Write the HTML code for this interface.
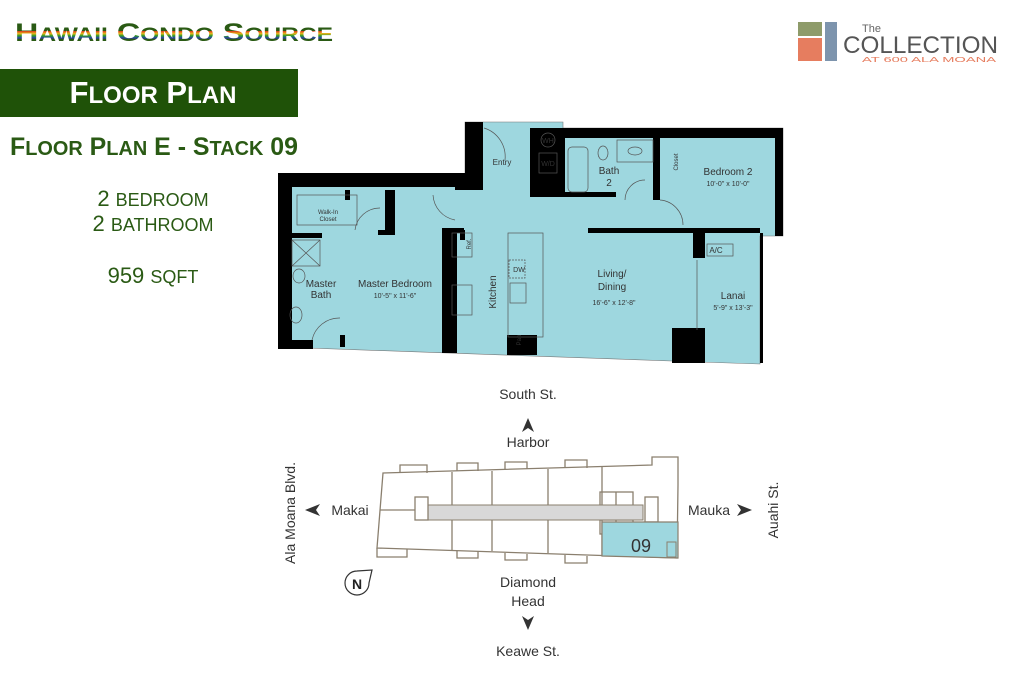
<!DOCTYPE html>
<html><head><meta charset="utf-8"><style>
body{margin:0;width:1024px;height:683px;background:#fff;overflow:hidden;font-family:"Liberation Sans",sans-serif}
svg{position:absolute;left:0;top:0}
</style></head><body>
<svg width="1024" height="683" viewBox="0 0 1024 683" font-family="Liberation Sans, sans-serif">
<defs>
<linearGradient id="rb" x1="0" y1="0" x2="0" y2="1">
<stop offset="0" stop-color="#2a5a14"/><stop offset="0.42" stop-color="#2a5a14"/>
<stop offset="0.42" stop-color="#d62a1a"/><stop offset="0.52" stop-color="#e8b81a"/>
<stop offset="0.6" stop-color="#2a9a2a"/><stop offset="0.68" stop-color="#2a3ab0"/>
<stop offset="0.72" stop-color="#2a5a14"/><stop offset="1" stop-color="#2a5a14"/>
</linearGradient>
</defs>
<text x="15" y="41" font-size="25" font-weight="bold" fill="url(#rb)" textLength="318" lengthAdjust="spacingAndGlyphs">H<tspan font-size="19">AWAII</tspan> C<tspan font-size="19">ONDO</tspan> S<tspan font-size="19">OURCE</tspan></text>
<rect x="0" y="69" width="298" height="48" fill="#1f5208"/>
<text x="153" y="103" font-size="31" font-weight="bold" fill="#fff" text-anchor="middle">F<tspan font-size="24">LOOR</tspan> P<tspan font-size="24">LAN</tspan></text>
<text x="10" y="155" font-size="25" font-weight="bold" fill="#2a5a14" textLength="288" lengthAdjust="spacingAndGlyphs">F<tspan font-size="20">LOOR</tspan> P<tspan font-size="20">LAN</tspan> E - S<tspan font-size="20">TACK</tspan> 09</text>
<g fill="#2a5a14" text-anchor="middle" font-size="22">
<text x="153" y="206">2 <tspan font-size="18">BEDROOM</tspan></text>
<text x="153" y="231">2 <tspan font-size="18">BATHROOM</tspan></text>
<text x="153" y="283">959 <tspan font-size="18">SQFT</tspan></text>
</g>
<rect x="798" y="22" width="24" height="14" fill="#8e9b6a"/>
<rect x="798" y="38" width="24" height="23" fill="#e67d5f"/>
<rect x="825" y="22" width="12" height="39" fill="#7d94ad"/>
<text x="862" y="32" font-size="11" fill="#666">The</text>
<text x="843" y="53" font-size="24" fill="#555" textLength="155" lengthAdjust="spacingAndGlyphs">COLLECTION</text>
<text x="862" y="62" font-size="7" fill="#e67d5f" textLength="134" lengthAdjust="spacingAndGlyphs">AT 600 ALA MOANA</text>

<polygon points="280,175 465,175 465,122 563,122 563,128 783,128 783,236 760,236 760,364 700,362 280,347" fill="#9ed7df" stroke="#777" stroke-width="0.6"/>
<g fill="#000">
<rect x="278" y="173" width="192" height="14"/>
<rect x="278" y="173" width="14" height="176"/>
<rect x="465" y="122" width="18" height="68"/>
<rect x="455" y="173" width="28" height="17"/>
<rect x="530" y="128" width="35" height="69"/>
<rect x="563" y="128" width="220" height="10"/>
<rect x="653" y="128" width="7" height="72"/>
<rect x="530" y="192" width="86" height="5"/>
<rect x="588" y="228" width="172" height="5"/>
<rect x="693" y="228" width="12" height="30"/>
<rect x="672" y="328" width="33" height="35"/>
<rect x="442" y="228" width="15" height="125"/>
<rect x="442" y="228" width="22" height="5"/>
<rect x="507" y="335" width="30" height="20"/>
<rect x="385" y="190" width="10" height="45"/>
<rect x="345" y="190" width="5" height="10"/>
<rect x="292" y="233" width="30" height="5"/>
<rect x="378" y="230" width="17" height="5"/>
<rect x="278" y="340" width="35" height="9"/>
<rect x="340" y="335" width="5" height="12"/>
<rect x="460" y="230" width="5" height="10"/>
<rect x="775" y="128" width="8" height="108"/>
<rect x="760" y="233" width="3" height="130"/>
</g>
<g fill="none" stroke="#555" stroke-width="0.7">
<rect x="292" y="240" width="28" height="26"/>
<path d="M292,240 L320,266 M320,240 L292,266"/>
<rect x="297" y="195" width="60" height="30"/>
<rect x="508" y="233" width="35" height="104"/>
<rect x="509" y="260" width="16" height="18" stroke-dasharray="2,1"/>
<rect x="510" y="283" width="16" height="20"/>
<rect x="452" y="233" width="20" height="24"/>
<rect x="452" y="285" width="20" height="30"/>
<circle cx="548" cy="140" r="7"/>
<rect x="539" y="153" width="18" height="20"/>
<rect x="568" y="147" width="20" height="45" rx="4"/>
<rect x="617" y="140" width="36" height="22"/>
<ellipse cx="635" cy="151" rx="7" ry="4"/>
<ellipse cx="603" cy="153" rx="5" ry="7"/>
<ellipse cx="299" cy="276" rx="6" ry="7"/>
<ellipse cx="296" cy="315" rx="6" ry="8"/>
<rect x="707" y="244" width="26" height="12"/>
<path d="M433,195 A27,27 0 0 0 455,220"/>
<path d="M484,128 A30,30 0 0 1 505,160"/>
<path d="M625,200 A20,20 0 0 1 645,180"/>
<path d="M660,200 A25,25 0 0 1 683,225"/>
<path d="M355,230 A25,25 0 0 1 380,208"/>
<path d="M312,340 A28,28 0 0 1 340,318"/>
<path d="M697,260 L697,330"/>
</g>
<g fill="#333" text-anchor="middle" font-size="10">
<text x="395" y="287">Master Bedroom</text>
<text x="395" y="298" font-size="7">10'-5" x 11'-6"</text>
<text x="321" y="287">Master</text><text x="321" y="298">Bath</text>
<text x="328" y="214" font-size="6">Walk-In</text><text x="328" y="221" font-size="6">Closet</text>
<text transform="translate(496,292) rotate(-90)">Kitchen</text>
<text x="612" y="277">Living/</text><text x="612" y="290">Dining</text>
<text x="614" y="305" font-size="7">16'-6" x 12'-8"</text>
<text x="733" y="299">Lanai</text>
<text x="733" y="310" font-size="7">5'-9" x 13'-3"</text>
<text x="728" y="175">Bedroom 2</text>
<text x="728" y="186" font-size="7">10'-0" x 10'-0"</text>
<text x="609" y="174">Bath</text><text x="609" y="186">2</text>
<text x="502" y="165" font-size="8">Entry</text>
<text x="548" y="143" font-size="7">WH</text>
<text x="548" y="166" font-size="7">W/D</text>
<text x="716" y="253" font-size="8">A/C</text>
<text x="519" y="272" font-size="7">DW</text>
<text transform="translate(471,244) rotate(-90)" font-size="6">Ref.</text>
<text transform="translate(521,340) rotate(-90)" font-size="6">Pan</text>
<text transform="translate(678,162) rotate(-90)" font-size="6">Closet</text>
</g>

<g fill="none" stroke="#8a7f6e" stroke-width="1.3">
<polygon points="383,473 652,465 652,457 678,457 678,485 677,558 377,548"/>
<path d="M400,473 v-8 h27 v8 M457,471 v-8 h21 v8 M505,469 v-7 h22 v7 M565,468 v-8 h22 v8"/>
<path d="M377,548 v9 h30 v-8 M457,551 v7 h21 v-7 M505,553 v7 h22 v-6 M565,555 v8 h22 v-7"/>
<path d="M452,472 V550 M492,471 V551 M548,469 V553 M602,467 V555 M380,510 H415"/>
<rect x="600" y="492" width="33" height="20"/>
<rect x="600" y="520" width="33" height="14"/>
<rect x="645" y="497" width="13" height="25"/>
<path d="M616,492 V512 M616,520 V534"/>
</g>
<polygon points="427,505 643,505 643,520 427,520" fill="#d8d8d8" stroke="#8a7f6e" stroke-width="1"/>
<rect x="415" y="497" width="13" height="23" fill="#fff" stroke="#8a7f6e" stroke-width="1.3"/>
<polygon points="602,522 670,522 678,522 678,558 602,556" fill="#9ed7df" stroke="#8a7f6e" stroke-width="1.2"/>
<rect x="667" y="542" width="9" height="15" fill="none" stroke="#8a7f6e"/>
<text x="641" y="552" font-size="18" fill="#333" text-anchor="middle">09</text>
<g fill="#333" font-size="14" text-anchor="middle">
<text x="528" y="399">South St.</text>
<path d="M522,432 L528,418 L534,432 L528,428Z"/>
<text x="528" y="447">Harbor</text>
<text x="350" y="515">Makai</text>
<path d="M305,510 L320,504 L316,510 L320,516Z"/>
<text x="709" y="515">Mauka</text>
<path d="M752,510 L737,504 L741,510 L737,516Z"/>
<text transform="translate(295,513) rotate(-90)">Ala Moana Blvd.</text>
<text transform="translate(778,510) rotate(-90)">Auahi St.</text>
<text x="528" y="587">Diamond</text>
<text x="528" y="606">Head</text>
<path d="M522,616 L528,630 L534,616 L528,620Z"/>
<text x="528" y="656">Keawe St.</text>
</g>
<path d="M357,571 A12,12 0 1 0 369,583 L372,570 Z" fill="#fff" stroke="#333" stroke-width="1.2"/>
<text x="357" y="589" font-size="14" font-weight="bold" fill="#222" text-anchor="middle">N</text>
</svg>
</body></html>
